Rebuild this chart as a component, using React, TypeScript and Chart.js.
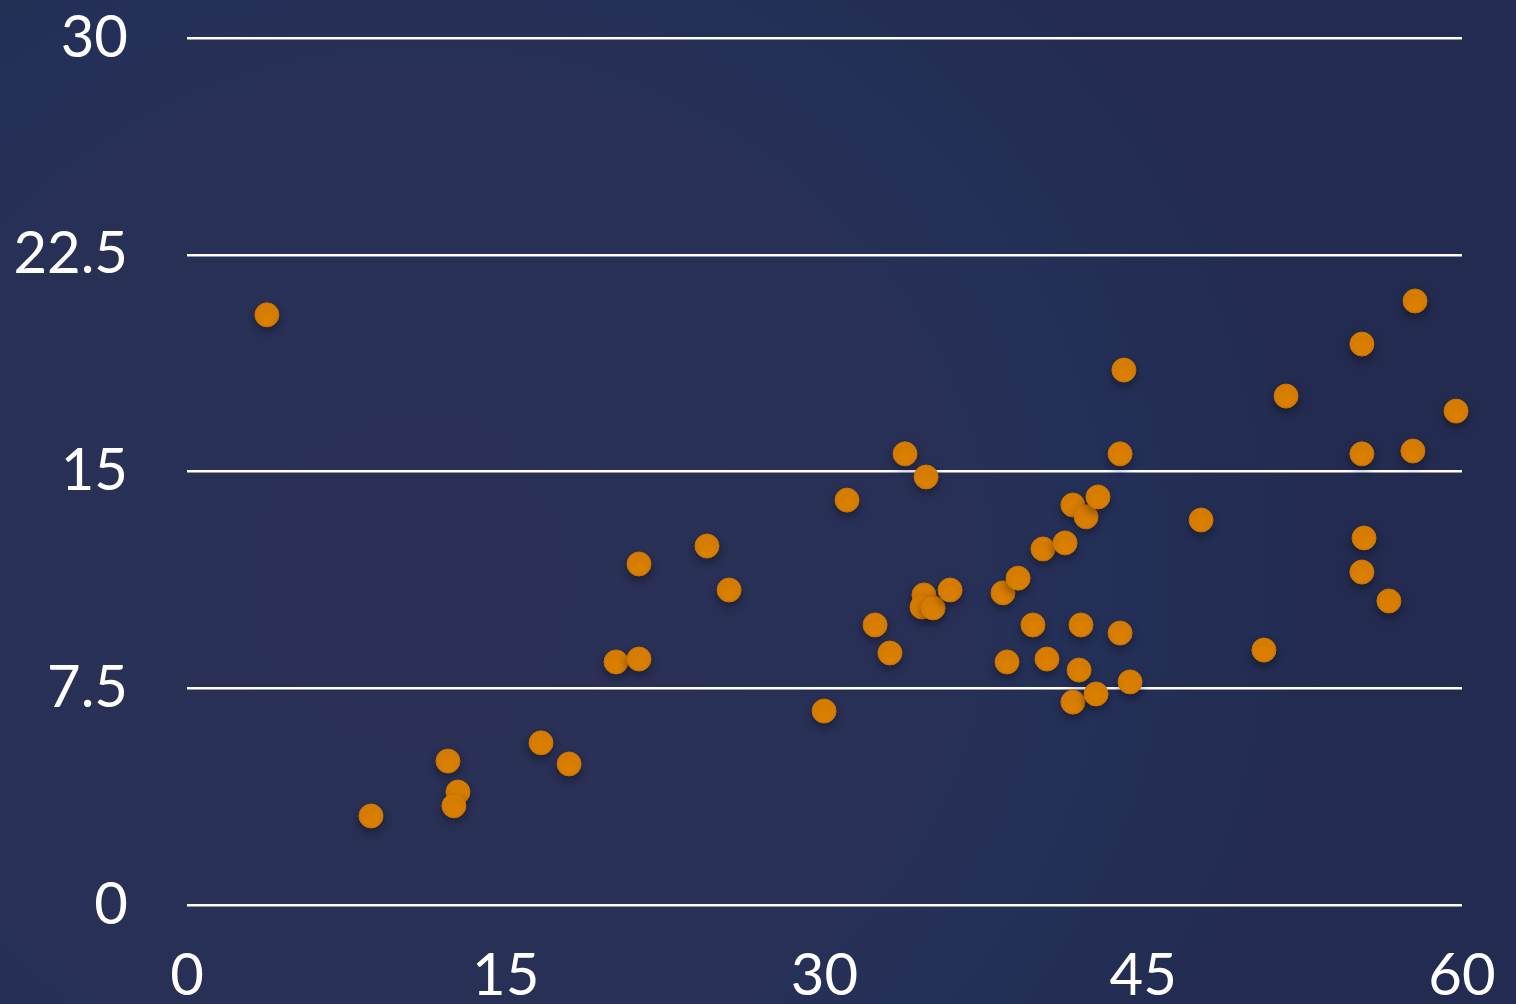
import React, { useEffect, useRef } from "react";
import { Chart, registerables } from "chart.js";

Chart.register(...registerables);

const xValues = [3.76, 8.66, 12.28, 12.75, 12.56, 16.66, 17.98, 20.19, 21.27, 21.27, 24.47, 25.51, 29.98, 31.06, 32.38, 33.08, 33.79, 34.78, 34.68, 34.59, 35.11, 35.91, 38.4, 38.59, 39.11, 39.81, 40.28, 40.47, 41.32, 41.69, 41.69, 41.98, 42.07, 42.31, 42.78, 42.87, 43.91, 43.91, 44.09, 44.38, 47.72, 50.68, 51.72, 55.29, 55.29, 55.39, 55.29, 56.56, 57.69, 57.79, 59.72];
const yValues = [20.42, 3.08, 4.98, 3.91, 3.43, 5.61, 4.88, 8.41, 8.51, 11.8, 12.42, 10.9, 6.71, 14.01, 9.69, 8.72, 15.61, 14.81, 10.73, 10.31, 10.28, 10.9, 10.8, 8.41, 11.31, 9.69, 12.32, 8.51, 12.53, 13.84, 7.02, 8.13, 9.69, 13.43, 7.3, 14.12, 15.61, 9.41, 18.51, 7.72, 13.32, 8.82, 17.61, 19.41, 15.61, 12.7, 11.52, 10.52, 15.71, 20.9, 17.09];
const xTicks = [0, 15, 30, 45, 60];
const yTicks = [0, 7.5, 15, 22.5, 30];

const FONT = "'Gill Sans', 'Gill Sans MT', Lato, 'Open Sans', sans-serif";

export default function App() {
  const ref = useRef<HTMLCanvasElement | null>(null);
  useEffect(() => {
    document.body.style.margin = "0";
    const ctx = ref.current!;
    const shadowPlugin = {
      id: "pointShadow",
      beforeDatasetDraw(chart: any) {
        const c = chart.ctx;
        c.save();
        c.shadowColor = "rgba(0,0,0,0.35)";
        c.shadowBlur = 8;
        c.shadowOffsetY = 4;
      },
      afterDatasetDraw(chart: any) {
        chart.ctx.restore();
      },
    };
    const chart = new Chart(ctx, {
      type: "scatter",
      data: {
        datasets: [
          {
            data: xValues.map((x, i) => ({ x, y: yValues[i] })),
            backgroundColor: "#dc8000",
            borderColor: "#c87400",
            borderWidth: 1,
            pointRadius: 12,
            pointHoverRadius: 12,
            clip: false as any,
          },
        ],
      },
      options: {
        animation: false,
        responsive: false,
        maintainAspectRatio: false,
        layout: { padding: { top: 38, right: 54, left: 0, bottom: 0 } },
        plugins: { legend: { display: false }, tooltip: { enabled: false } },
        scales: {
          x: {
            type: "linear",
            min: 0,
            max: 60,
            afterBuildTicks: (axis: any) => {
              axis.ticks = xTicks.map((v) => ({ value: v }));
            },
            afterFit: (axis: any) => {
              axis.height = 99;
              axis.paddingLeft = 0;
              axis.paddingRight = 0;
            },
            grid: { display: false, drawTicks: false },
            border: { display: false },
            ticks: {
              color: "#ffffff",
              font: { family: FONT, size: 58 },
              padding: 36,
              maxRotation: 0,
              autoSkip: false,
            },
          },
          y: {
            type: "linear",
            min: 0,
            max: 30,
            afterBuildTicks: (axis: any) => {
              axis.ticks = yTicks.map((v) => ({ value: v }));
            },
            afterFit: (axis: any) => {
              axis.width = 187;
              axis.paddingTop = 0;
              axis.paddingBottom = 0;
            },
            grid: { color: "#ffffff", lineWidth: 2.5, drawTicks: false },
            border: { display: false },
            ticks: {
              color: "#ffffff",
              font: { family: FONT, size: 58 },
              padding: 59,
              autoSkip: false,
            },
          },
        },
      },
      plugins: [shadowPlugin],
    });
    return () => chart.destroy();
  }, []);
  return (
    <div
      style={{
        position: "relative",
        width: 1516,
        height: 1004,
        background:
          "radial-gradient(ellipse 900px 850px at 28% 58%, #2a3056 0%, #293056 55%, #243058 75%, #232b50 100%)",
      }}
    >
      <canvas ref={ref} width={1516} height={1004} style={{ display: "block" }} />
    </div>
  );
}
